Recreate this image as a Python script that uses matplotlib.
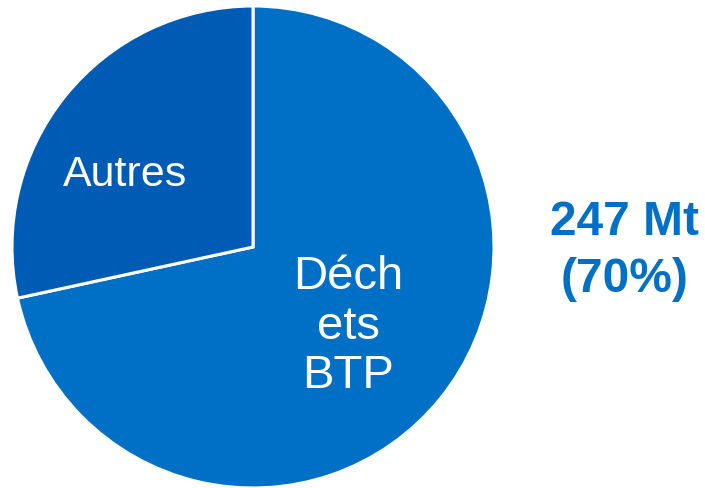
import matplotlib.pyplot as plt

plt.rcParams['font.family'] = ['Liberation Sans', 'DejaVu Sans']

# Data
labels = ['Déch\nets\nBTP', 'Autres']
values = [247, 98]
colors = ['#0070C6', '#005BB5']
total_label = '247 Mt\n(70%)'

fig = plt.figure(figsize=(7.05, 4.88), dpi=100)
W, H = 705, 488
cx, cy, r = 253, 247, 241
ax = fig.add_axes([(cx - r) / W, (H - cy - r) / H, 2 * r / W, 2 * r / H])

wedges, _ = ax.pie(values, colors=colors, startangle=90, counterclock=False,
                   radius=1, wedgeprops=dict(edgecolor='white', linewidth=2.2))
ax.set_xlim(-1, 1)
ax.set_ylim(-1, 1)
ax.set_aspect('equal')
ax.axis('off')

# Slice labels
ax.text(0.395, -0.33, labels[0], ha='center', va='center', color='white',
        fontsize=34, linespacing=1.17)
ax.text(-0.53, 0.30, labels[1], ha='center', va='center', color='white',
        fontsize=31)

# Side annotation
fig.text(625 / W, 1 - 251 / H, total_label, ha='center', va='center',
         color='#0070C6', fontsize=34.5, fontweight='bold', linespacing=1.32)

fig.savefig('out.png', dpi=100)
